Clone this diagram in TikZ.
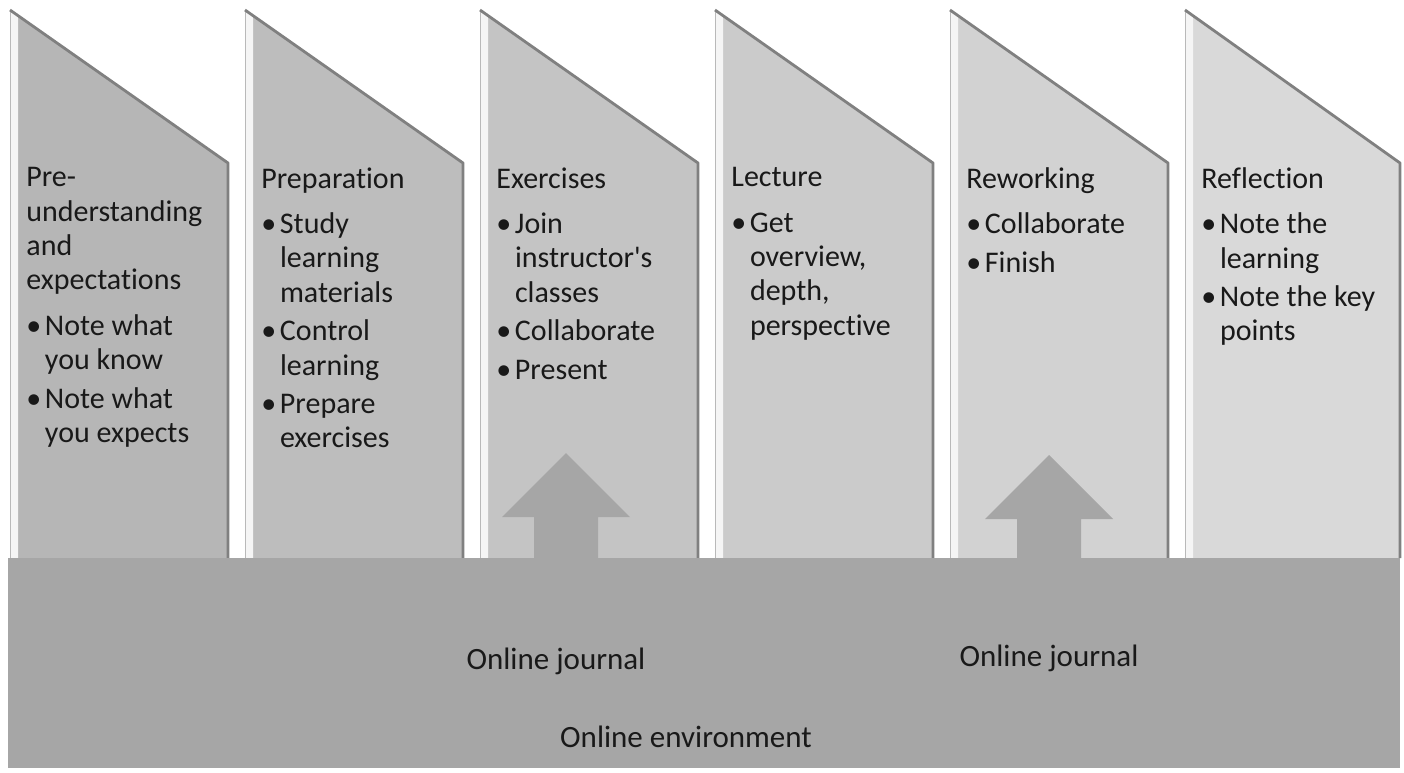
\documentclass[tikz,border=0pt]{standalone}
\usepackage{fontspec}
\defaultfontfeatures[\rmfamily]{}
\setmainfont{Carlito}[Ligatures=NoCommon]

\definecolor{colA}{gray}{0.715}
\definecolor{colB}{gray}{0.742}
\definecolor{colC}{gray}{0.769}
\definecolor{colD}{gray}{0.796}
\definecolor{colE}{gray}{0.823}
\definecolor{colF}{gray}{0.85}
\definecolor{colBase}{gray}{0.65}

\newcommand\bl{\makebox[0.62em][l]{\textbullet}}
\newcommand\bsp{\hspace*{0.62em}}

\begin{document}
\begin{tikzpicture}[x={(0.5pt,0pt)},y={(0pt,-0.5pt)},
  bevel/.style={fill=gray!8},
  rim/.style={draw=black!50,line width=1.4pt,line join=round},
  lbl/.style={align=left,inner sep=0pt,anchor=north west,
    font=\fontsize{15}{17.2}\selectfont,text=black!90},
  tag/.style={inner sep=0pt,font=\fontsize{15.5}{17}\selectfont,text=black!90},
  uparrow/.style={fill=colBase}]

\useasboundingbox[fill=white] (0,0) rectangle (1404,772);

\begin{scope}[shift={(10,0)}]
\coordinate (a) at (0,10);
\coordinate (b) at (218,163);
\coordinate (c) at (218,558);
\coordinate (d) at (0,558);
\fill[colA] (a) -- (b) -- (c) -- (d) -- cycle;
\fill[bevel] (a) -- (8,15.6) -- (8,558) -- (d) -- cycle;
\draw[gray!55] (a) -- (d);
\draw[rim] (a) -- (b) -- (c);
\node[lbl] (pre) at (16,167) {Pre-\\understanding\\and\\expectations\\[5.5pt]\bl Note what\\\bsp you know\\[2pt]\bl Note what\\\bsp you expects};
\end{scope}

\begin{scope}[shift={(245,0)}]
\coordinate (a) at (0,10);
\coordinate (b) at (218,163);
\coordinate (c) at (218,558);
\coordinate (d) at (0,558);
\fill[colB] (a) -- (b) -- (c) -- (d) -- cycle;
\fill[bevel] (a) -- (8,15.6) -- (8,558) -- (d) -- cycle;
\draw[gray!55] (a) -- (d);
\draw[rim] (a) -- (b) -- (c);
\node[lbl] (prep) at (16,167) {Preparation\\[5.5pt]\bl Study\\\bsp learning\\\bsp materials\\[2pt]\bl Control\\\bsp learning\\[2pt]\bl Prepare\\\bsp exercises};
\end{scope}

\begin{scope}[shift={(480,0)}]
\coordinate (a) at (0,10);
\coordinate (b) at (218,163);
\coordinate (c) at (218,558);
\coordinate (d) at (0,558);
\fill[colC] (a) -- (b) -- (c) -- (d) -- cycle;
\fill[bevel] (a) -- (8,15.6) -- (8,558) -- (d) -- cycle;
\draw[gray!55] (a) -- (d);
\draw[rim] (a) -- (b) -- (c);
\node[lbl] (exer) at (16,167) {Exercises\\[5.5pt]\bl Join\\\bsp instructor's\\\bsp classes\\[2pt]\bl Collaborate\\[2pt]\bl Present};
\fill[uparrow] (86,453) -- (150,517) -- (118,517) -- (118,559) -- (54,559) -- (54,517) -- (22,517) -- cycle;
\end{scope}

\begin{scope}[shift={(715,0)}]
\coordinate (a) at (0,10);
\coordinate (b) at (218,163);
\coordinate (c) at (218,558);
\coordinate (d) at (0,558);
\fill[colD] (a) -- (b) -- (c) -- (d) -- cycle;
\fill[bevel] (a) -- (8,15.6) -- (8,558) -- (d) -- cycle;
\draw[gray!55] (a) -- (d);
\draw[rim] (a) -- (b) -- (c);
\node[lbl] (lect) at (16,167) {Lecture\\[5.5pt]\bl Get\\\bsp overview,\\\bsp depth,\\\bsp perspective};
\end{scope}

\begin{scope}[shift={(950,0)}]
\coordinate (a) at (0,10);
\coordinate (b) at (218,163);
\coordinate (c) at (218,558);
\coordinate (d) at (0,558);
\fill[colE] (a) -- (b) -- (c) -- (d) -- cycle;
\fill[bevel] (a) -- (8,15.6) -- (8,558) -- (d) -- cycle;
\draw[gray!55] (a) -- (d);
\draw[rim] (a) -- (b) -- (c);
\node[lbl] (rewo) at (16,167) {Reworking\\[5.5pt]\bl Collaborate\\[2pt]\bl Finish};
\fill[uparrow] (99,455) -- (163,519) -- (131,519) -- (131,559) -- (67,559) -- (67,519) -- (35,519) -- cycle;
\end{scope}

\begin{scope}[shift={(1185,0)}]
\coordinate (a) at (0,10);
\coordinate (b) at (215,163);
\coordinate (c) at (215,558);
\coordinate (d) at (0,558);
\fill[colF] (a) -- (b) -- (c) -- (d) -- cycle;
\fill[bevel] (a) -- (8,15.6) -- (8,558) -- (d) -- cycle;
\draw[gray!55] (a) -- (d);
\draw[rim] (a) -- (b) -- (c);
\node[lbl] (refl) at (16,167) {Reflection\\[5.5pt]\bl Note the\\\bsp learning\\[2pt]\bl Note the key\\\bsp points};
\end{scope}

% base band
\fill[colBase] (8,558) rectangle (1400,768);
\node[tag] (jour1) at (556,661) {Online journal};
\node[tag] (jour2) at (1049,658) {Online journal};
\node[tag] (env) at (686,737) {Online environment};

\end{tikzpicture}
\end{document}
